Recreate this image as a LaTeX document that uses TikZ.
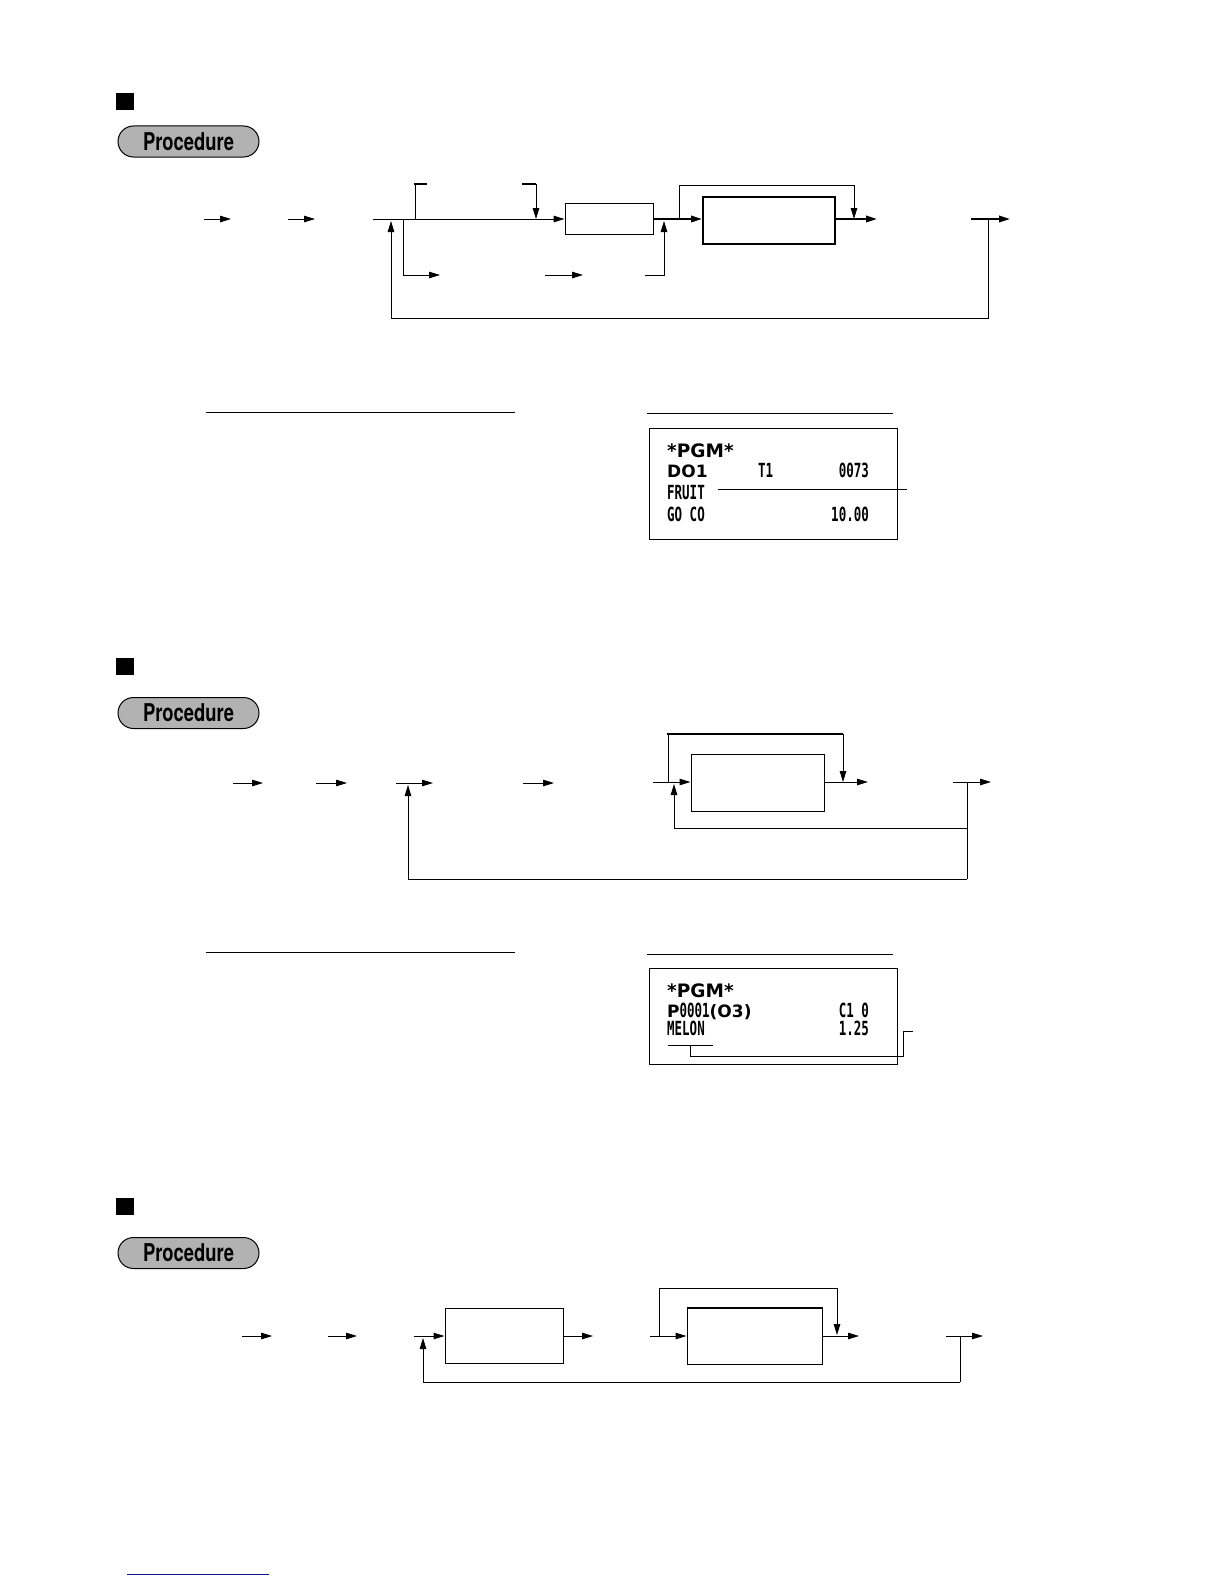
\documentclass[tikz,border=0pt]{standalone}
\usepackage{fontspec}
\usepackage{graphicx}
\setmainfont{TeX Gyre Heros}
\newfontfamily\rcfont{DejaVu Sans Mono}
\newfontfamily\rbfont{DejaVu Sans}
\usetikzlibrary{arrows.meta}
\tikzset{
  ln/.style={line width=1pt},
  lnb/.style={line width=2pt},
  ar/.style={line width=1pt,-{Triangle[length=11pt,width=6.5pt]}},
  arb/.style={line width=2pt,-{Triangle[length=11pt,width=6.5pt]}},
  sq/.style={fill=black,minimum width=18pt,minimum height=17pt,inner sep=0pt},
  pill/.style={draw,line width=1pt,fill=gray!60,rounded corners=15.5pt,minimum width=141pt,minimum height=31pt,inner sep=0pt,
    font=\fontsize{24.5}{26}\selectfont\bfseries},
  box/.style={draw,line width=1pt,inner sep=0pt},
  rbox/.style={draw,line width=1.2pt,inner sep=0pt,anchor=north west},
  rc/.style={anchor=base west,inner sep=0pt,font=\fontsize{19.5}{20}\selectfont\rcfont\bfseries},
  rce/.style={anchor=base east,inner sep=0pt,font=\fontsize{19.5}{20}\selectfont\rcfont\bfseries},
  rb/.style={anchor=base west,inner sep=0pt,font=\fontsize{18.5}{20}\selectfont\rbfont\bfseries},
}
\newcommand{\cond}[1]{\scalebox{0.64}[1]{#1}}
\begin{document}
\begin{tikzpicture}[x=1pt,y=-1pt]
\useasboundingbox (0,0) rectangle (1224,1584);

% ================= Section 1 =================
\node[sq] (sq1) at (125,101.5) {};
\node[pill] (pr1) at (188.5,141.5) {\scalebox{0.75}[1]{Procedure}};

\coordinate (s1a0) at (204,219); \coordinate (s1a1) at (231,219);
\coordinate (s1b0) at (288,219); \coordinate (s1b1) at (315,219);
\draw[ar] (s1a0) -- (s1a1);
\draw[ar] (s1b0) -- (s1b1);

\node[box,minimum width=88pt,minimum height=31pt] (b1) at (609,219) {};
\node[box,line width=2pt,minimum width=132pt,minimum height=47pt] (b2) at (769,220.5) {};

\coordinate (m0) at (373,219);
\draw[ar] (m0) -- (b1.west);
% upper bracket
\coordinate (u0) at (415,219); \coordinate (u1) at (427,184);
\draw[ln] (u0) -- (415,184);
\draw[lnb] (414,184) -- (u1);
\coordinate (u2) at (522,184); \coordinate (u3) at (536,184); \coordinate (u4) at (536,219);
\draw[lnb] (u2) -- (u3);
\draw[ar] (u3) -- (u4);
% lower branch
\coordinate (d0) at (403,219); \coordinate (d1) at (440,275);
\draw[ar] (d0) |- (d1);
\coordinate (d2) at (545,275); \coordinate (d3) at (583,275);
\draw[ar] (d2) -- (d3);
\coordinate (d4) at (645,275); \coordinate (d5) at (664,221);
\draw[ar] (d4) -| (d5);
% box1 -> box2
\draw[arb] (b1.east) -- (b2.west |- b1.east);
% bypass
\coordinate (p0) at (679,219); \coordinate (p1) at (854,185); \coordinate (p2) at (854,219);
\draw[ln] (p0) |- (p1);
\draw[ar] (p1) -- (p2);
\coordinate (o1) at (877,219);
\draw[arb] (b2.east |- o1) -- (o1);
% right stub + feedback
\coordinate (r0) at (971,219); \coordinate (r1) at (1010,219);
\draw[arb] (r0) -- (r1);
\coordinate (f0) at (988,219); \coordinate (f1) at (391,318); \coordinate (f2) at (391,221);
\draw[ln] (f0) |- (f1);
\draw[ar] (f1) -- (f2);

% receipt 1
\coordinate (rl0) at (206,412); \coordinate (rl1) at (515,412);
\draw[ln] (rl0) -- (rl1);
\coordinate (rr0) at (647,413); \coordinate (rr1) at (893,413);
\draw[ln] (rr0) -- (rr1);
\node[rbox,minimum width=248pt,minimum height=111pt] (rec1) at (649,428) {};
\node[rb] (t11) at (667,457) {*PGM*};
\node[rb,font=\fontsize{17}{18}\selectfont\rbfont\bfseries] (t12) at (667,477) {DO1};
\node[rc] (t13) at (758,477) {\cond{T1}};
\node[rce] (t14) at (869,477) {\cond{0073}};
\node[rc] (t15) at (667,499) {\cond{FRUIT}};
\node[rc] (t16) at (667,521) {\cond{GO CO}};
\node[rce] (t17) at (869,521) {\cond{10.00}};
\coordinate (fl1) at (907,489);
\draw[ln] (718,489) -- (fl1);

% ================= Section 2 =================
\node[sq] (sq2) at (125,666) {};
\node[pill] (pr2) at (188.5,713) {\scalebox{0.75}[1]{Procedure}};

\coordinate (s2a0) at (233,783); \coordinate (s2a1) at (263,783);
\coordinate (s2b0) at (316,783); \coordinate (s2b1) at (347,783);
\coordinate (s2c0) at (396,783); \coordinate (s2c1) at (433,783);
\coordinate (s2d0) at (523,783); \coordinate (s2d1) at (554,783);
\draw[ar] (s2a0) -- (s2a1);
\draw[ar] (s2b0) -- (s2b1);
\draw[ar] (s2c0) -- (s2c1);
\draw[ar] (s2d0) -- (s2d1);

\node[box,minimum width=133pt,minimum height=57pt] (b3) at (757.5,782.5) {};
\coordinate (q0) at (653,782);
\draw[ar] (q0) -- (b3.west |- q0);
\coordinate (q1) at (668,782); \coordinate (q2) at (843,734); \coordinate (q3) at (843,782);
\draw[ln] (q1) -- (668,734);
\draw[lnb] (667,734) -- (q2);
\draw[ar] (q2) -- (q3);
\coordinate (q4) at (868,782);
\draw[ar] (b3.east |- q4) -- (q4);
\coordinate (q5) at (953,782); \coordinate (q6) at (991,782);
\draw[ar] (q5) -- (q6);
\coordinate (q7) at (967,782); \coordinate (q8) at (967,879);
\draw[ln] (q7) -- (q8);
\coordinate (q9) at (408,785);
\draw[ar] (q8) -| (q9);
\coordinate (q10) at (967,828); \coordinate (q11) at (674,784);
\draw[ar] (q10) -| (q11);

% receipt 2
\coordinate (rl2) at (206,952); \coordinate (rl3) at (515,952);
\draw[ln] (rl2) -- (rl3);
\coordinate (rr2) at (647,954); \coordinate (rr3) at (893,954);
\draw[ln] (rr2) -- (rr3);
\node[rbox,minimum width=248pt,minimum height=96pt] (rec2) at (649,968) {};
\node[rb] (t21) at (667,997) {*PGM*};
\node[rb,font=\fontsize{17}{18}\selectfont\rbfont\bfseries] (t22) at (667,1017) {P\rcfont\fontsize{19.5}{20}\selectfont\cond{0001}\rbfont\fontsize{17}{18}\selectfont(O3)};
\node[rce] (t23) at (869,1017) {\cond{C1 0}};
\node[rc] (t24) at (667,1035) {\cond{MELON}};
\node[rce] (t25) at (869,1035) {\cond{1.25}};
\coordinate (ul0) at (668,1045); \coordinate (ul1) at (713,1045);
\draw[ln] (ul0) -- (ul1);
\coordinate (mc0) at (690,1045); \coordinate (mc1) at (903,1031); \coordinate (mc2) at (913,1031);
\draw[ln] (mc0) -- (690,1056) -- (903,1056) -- (mc1) -- (mc2);

% ================= Section 3 =================
\node[sq] (sq3) at (125,1206.5) {};
\node[pill] (pr3) at (188.5,1253) {\scalebox{0.75}[1]{Procedure}};

\coordinate (s3a0) at (242,1336); \coordinate (s3a1) at (272,1336);
\coordinate (s3b0) at (328,1336); \coordinate (s3b1) at (357,1336);
\draw[ar] (s3a0) -- (s3a1);
\draw[ar] (s3b0) -- (s3b1);

\node[box,minimum width=118pt,minimum height=55pt] (b4) at (504,1335.5) {};
\node[box,minimum width=135pt,minimum height=56pt] (b5) at (754.5,1336) {};
\draw[lnb] (b5.north west) -- (b5.north east);

\coordinate (w0) at (414,1336);
\draw[ar] (w0) -- (b4.west |- w0);
\coordinate (w1) at (593,1336);
\draw[ar] (b4.east |- w1) -- (w1);
\coordinate (w2) at (650,1336);
\draw[ar] (w2) -- (b5.west |- w2);
\coordinate (w3) at (659,1336); \coordinate (w4) at (837,1288); \coordinate (w5) at (837,1335);
\draw[ln] (w3) |- (w4);
\draw[ar] (w4) -- (w5);
\coordinate (w6) at (859,1336);
\draw[ar] (b5.east |- w6) -- (w6);
\coordinate (w7) at (946,1336); \coordinate (w8) at (983,1336);
\draw[ar] (w7) -- (w8);
\coordinate (w9) at (960,1336); \coordinate (w10) at (423,1338);
\draw[ln] (w9) -- (960,1382);
\draw[ar] (960,1382) -| (w10);

% bottom blue rule
\coordinate (bl0) at (127,1574); \coordinate (bl1) at (269,1574);
\draw[line width=1pt,color={rgb,255:red,20;green,20;blue,140}] (bl0) -- (bl1);
\end{tikzpicture}
\end{document}
